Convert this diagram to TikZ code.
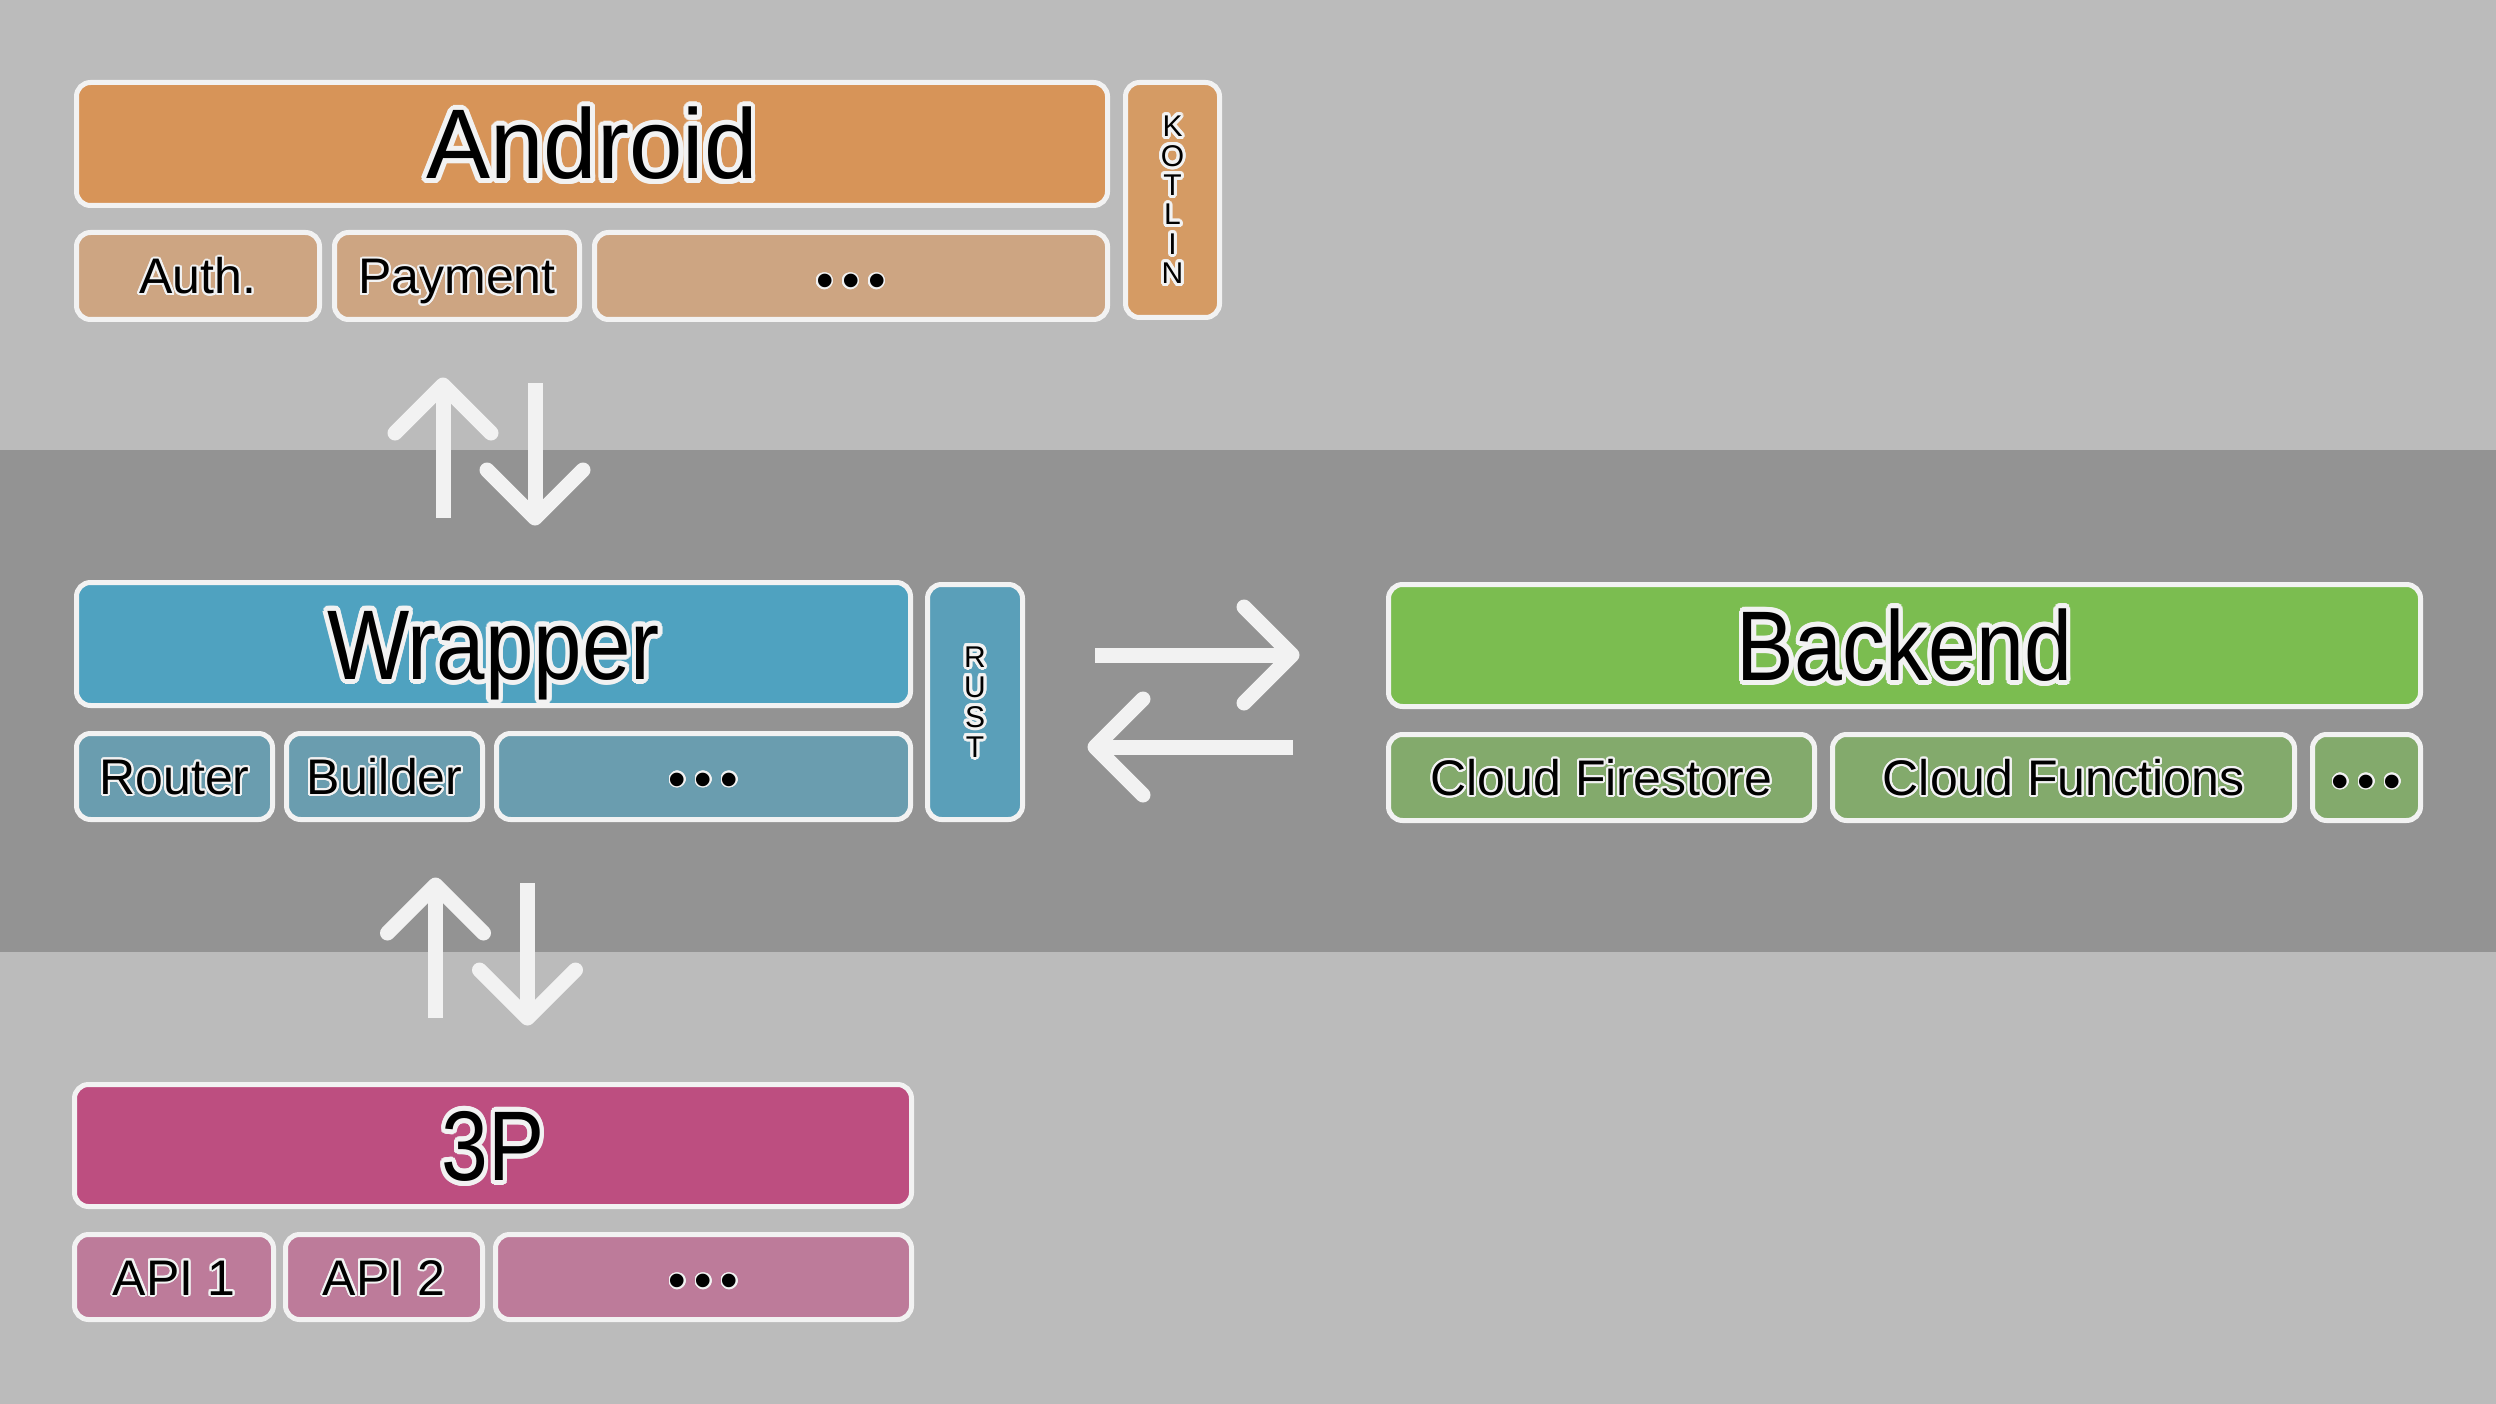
\documentclass[tikz,border=0pt]{standalone}
\usepackage{fontspec}
\setmainfont{Liberation Sans}
\usepackage{graphicx}
\definecolor{bgl}{HTML}{BBBBBB}
\definecolor{bgd}{HTML}{939393}
\definecolor{bord}{HTML}{F2F2F2}
\definecolor{andr}{HTML}{D79458}
\definecolor{andrs}{HTML}{CDA582}
\definecolor{kot}{HTML}{D59B64}
\definecolor{wrap}{HTML}{4FA2C0}
\definecolor{wraps}{HTML}{6A9DAF}
\definecolor{rust}{HTML}{5A9FB9}
\definecolor{back}{HTML}{7BBD50}
\definecolor{backs}{HTML}{83AA6C}
\definecolor{tp}{HTML}{BD4E80}
\definecolor{tps}{HTML}{BD7B9A}

\newcommand\halo[2]{%
  \leavevmode
  \foreach \hang in {0,15,...,345}{%
    \pgfmathsetlengthmacro\hdx{#1*cos(\hang)}%
    \pgfmathsetlengthmacro\hdy{#1*sin(\hang)}%
    \rlap{\hspace*{\hdx}\raisebox{\hdy}{\color{bord}#2}}%
  }%
  #2}
\newcommand\titlef{\fontsize{99}{99}\selectfont}
\newcommand\subf{\fontsize{50}{50}\selectfont}
\newcommand\dotf{\fontsize{50}{50}\selectfont}
\newcommand\letf{\fontsize{30}{29}\selectfont}
\newcommand\letfr{\fontsize{30}{30}\selectfont}
\newcommand\threedots{•\kern8.5pt•\kern8.5pt•}
% box: name, x1, y1, x2, y2, fill
\newcommand\bx[6]{\node[box, fill=#6, minimum width={#4-#2-5}, minimum height={#5-#3-5}] (#1) at ({(#2+#4)/2},{(#3+#5)/2}) {};}

\begin{document}
\begin{tikzpicture}[x=1pt, y=-1pt,
  box/.style={draw=bord, line width=5pt, rounded corners=14pt, inner sep=0pt},
  title/.style={anchor=base, inner sep=0pt, font=\titlef},
  sublabel/.style={anchor=base, inner sep=0pt, font=\subf},
  dotlabel/.style={inner sep=0pt, font=\dotf},
  vlabel/.style={inner sep=0pt, font=\letf},
  shaft/.style={draw=bord, line width=15pt, line cap=butt},
  chev/.style={draw=bord, line width=15pt, line cap=round, line join=round}]
\useasboundingbox (0,0) rectangle (2496,1404);
\fill[bgl] (0,0) rectangle (2496,450);
\fill[bgd] (0,450) rectangle (2496,952);
\fill[bgl] (0,952) rectangle (2496,1404);

% Android
\bx{android}{74}{80}{1110}{208}{andr}
\bx{auth}{74}{230}{322}{322}{andrs}
\bx{payment}{332}{230}{582}{322}{andrs}
\bx{adots}{592}{230}{1110}{322}{andrs}
\bx{kotlin}{1123}{80}{1222}{320}{kot}
\node[title] (androidT) at ([yshift=-35pt]android.center) {\scalebox{0.97}[1]{\halo{5}{Android}}};
\node[sublabel] (authT) at ([yshift=-18pt]auth.center) {\halo{2}{Auth.}};
\node[sublabel] (paymentT) at ([yshift=-18pt]payment.center) {\halo{2}{Payment}};
\node[dotlabel] (adotsT) at ([yshift=-10pt]adots.center) {\halo{1.5}{\threedots}};
\node[vlabel] (kotlinT) at ([yshift=-4pt]kotlin.center) {\halo{3}{\begin{tabular}{@{}c@{}}K\\O\\T\\L\\I\\N\end{tabular}}};

% Wrapper
\bx{wrapper}{74}{580}{913}{708}{wrap}
\bx{router}{74}{731}{275}{822}{wraps}
\bx{builder}{284}{731}{485}{822}{wraps}
\bx{wdots}{494}{731}{913}{822}{wraps}
\bx{rust}{925}{582}{1025}{822}{rust}
\node[title] (wrapperT) at ([yshift=-35pt]wrapper.center) {\scalebox{0.88}[1]{\halo{5}{Wrapper}}};
\node[sublabel] (routerT) at ([yshift=-18pt]router.center) {\halo{2}{Router}};
\node[sublabel] (builderT) at ([yshift=-18pt]builder.center) {\halo{2}{Builder}};
\node[dotlabel] (wdotsT) at ([yshift=-8pt]wdots.center) {\halo{1.5}{\threedots}};
\node[vlabel, font=\letfr] (rustT) at ([yshift=-4pt]rust.center) {\halo{3}{\begin{tabular}{@{}c@{}}R\\U\\S\\T\end{tabular}}};

% Backend
\bx{backend}{1386}{582}{2423}{709}{back}
\bx{firestore}{1386}{732}{1817}{823}{backs}
\bx{functions}{1830}{732}{2297}{823}{backs}
\bx{bdots}{2310}{732}{2423}{823}{backs}
\node[title] (backendT) at ([yshift=-35pt]backend.center) {\scalebox{0.87}[1]{\halo{5}{Backend}}};
\node[sublabel] (firestoreT) at ([yshift=-18pt]firestore.center) {\halo{2}{Cloud Firestore}};
\node[sublabel] (functionsT) at ([yshift=-18pt]functions.center) {\halo{2}{Cloud Functions}};
\node[dotlabel] (bdotsT) at ([yshift=-9pt]bdots.center) {\halo{1.5}{\threedots}};

% 3P
\bx{tp}{72}{1082}{914}{1209}{tp}
\bx{api1}{72}{1232}{276}{1322}{tps}
\bx{api2}{283}{1232}{485}{1322}{tps}
\bx{tdots}{493}{1232}{914}{1322}{tps}
\node[title] (tpT) at ([yshift=-35pt]tp.center) {\scalebox{0.85}[1]{\halo{5}{3P}}};
\node[sublabel] (api1T) at ([yshift=-18pt]api1.center) {\halo{2}{API 1}};
\node[sublabel] (api2T) at ([yshift=-18pt]api2.center) {\halo{2}{API 2}};
\node[dotlabel] (tdotsT) at ([yshift=-9pt]tdots.center) {\halo{1.5}{\threedots}};

% arrows Android <-> Wrapper
\coordinate (u1b) at (443,518);
\coordinate (u1t) at (443,385);
\coordinate (d1b) at (535,383);
\coordinate (d1t) at (535,518);
\draw[shaft] (u1b) -- (u1t);
\draw[chev] ([shift={(-48,48)}]u1t) -- (u1t) -- ([shift={(48,48)}]u1t);
\draw[shaft] (d1b) -- (d1t);
\draw[chev] ([shift={(-48,-48)}]d1t) -- (d1t) -- ([shift={(48,-48)}]d1t);

% arrows Wrapper <-> 3P
\coordinate (u2b) at (435.5,1018);
\coordinate (u2t) at (435.5,885);
\coordinate (d2b) at (527.5,883);
\coordinate (d2t) at (527.5,1018);
\draw[shaft] (u2b) -- (u2t);
\draw[chev] ([shift={(-48,48)}]u2t) -- (u2t) -- ([shift={(48,48)}]u2t);
\draw[shaft] (d2b) -- (d2t);
\draw[chev] ([shift={(-48,-48)}]d2t) -- (d2t) -- ([shift={(48,-48)}]d2t);

% arrows Wrapper <-> Backend
\coordinate (r1b) at (1095,655);
\coordinate (r1t) at (1292,655);
\coordinate (l1b) at (1293,747);
\coordinate (l1t) at (1095,747);
\draw[shaft] (r1b) -- (r1t);
\draw[chev] ([shift={(-48,-48)}]r1t) -- (r1t) -- ([shift={(-48,48)}]r1t);
\draw[shaft] (l1b) -- (l1t);
\draw[chev] ([shift={(48,-48)}]l1t) -- (l1t) -- ([shift={(48,48)}]l1t);
\end{tikzpicture}
\end{document}
